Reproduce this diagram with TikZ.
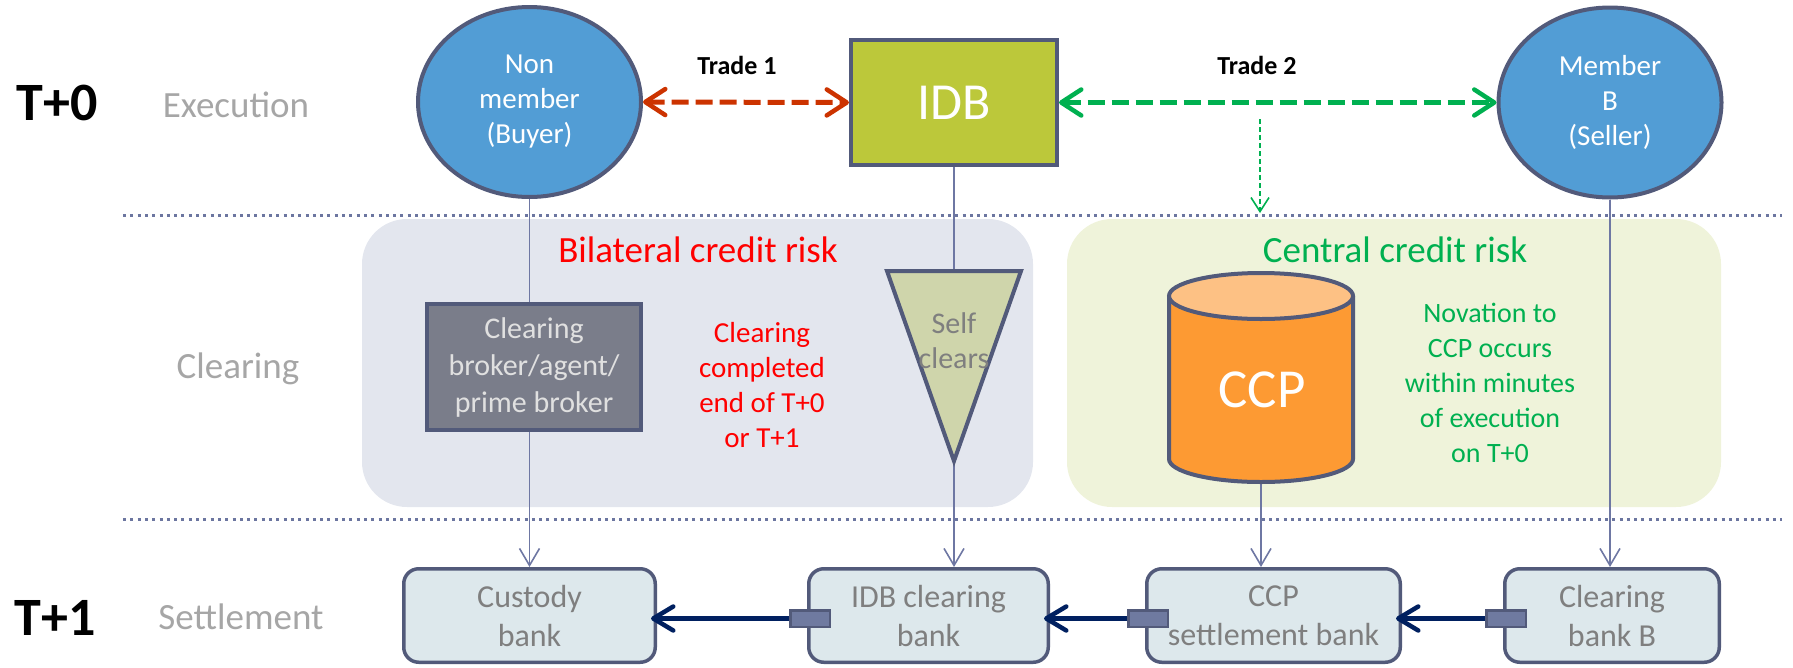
\documentclass[tikz,border=0pt]{standalone}
\usepackage{fontspec}
\setmainfont{Carlito}
\usetikzlibrary{shapes.geometric,arrows.meta,calc}
\pgfdeclarelayer{back}
\pgfdeclarelayer{mid}
\pgfsetlayers{back,mid,main}

\definecolor{slate}{HTML}{525A7A}
\definecolor{conn}{HTML}{6E77A3}
\definecolor{ellblue}{HTML}{529DD5}
\definecolor{idbgreen}{HTML}{BCC83A}
\definecolor{brokergray}{HTML}{7A7D8A}
\definecolor{bilat}{HTML}{E3E6EE}
\definecolor{centralbg}{HTML}{EFF3DA}
\definecolor{trifill}{HTML}{CFD5AB}
\definecolor{ccpbody}{HTML}{FD9A33}
\definecolor{ccptop}{HTML}{FDC184}
\definecolor{settle}{HTML}{DDE8EC}
\definecolor{textgray}{HTML}{7F7F7F}
\definecolor{labelgray}{HTML}{A6A6A6}
\definecolor{riskred}{HTML}{FF0000}
\definecolor{riskgreen}{HTML}{00B050}
\definecolor{tradered}{HTML}{CC3300}
\definecolor{navyc}{HTML}{002060}
\definecolor{sqfill}{HTML}{6F7AA0}
\definecolor{dotcol}{HTML}{6C76A0}

\begin{document}
\begin{tikzpicture}[x=1pt,y=-1pt,
  party/.style={ellipse, draw=slate, line width=4pt, fill=ellblue, minimum width=223pt, minimum height=190pt, inner sep=0pt, text=white, align=center, font=\fontsize{29}{35}\selectfont},
  idbbox/.style={rectangle, draw=slate, line width=4pt, fill=idbgreen, minimum width=206pt, minimum height=125pt, text=white, font=\fontsize{52}{60}\selectfont},
  brokerbox/.style={rectangle, draw=slate, line width=4pt, fill=brokergray, minimum width=214pt, minimum height=126pt, text=white!88!black, align=center, font=\fontsize{30}{37}\selectfont},
  bankbox/.style={rectangle, rounded corners=15pt, draw=slate, line width=3.5pt, fill=settle, minimum height=93.5pt, text=textgray, align=center, font=\fontsize{32}{39}\selectfont},
  sqbox/.style={rectangle, draw=slate, line width=2.5pt, fill=sqfill, minimum width=39.5pt, minimum height=16.5pt, inner sep=0pt},
  periodlbl/.style={font=\bfseries\fontsize{54}{60}\selectfont, text=black},
  phaselbl/.style={font=\fontsize{37}{44}\selectfont, text=labelgray},
  tradelbl/.style={font=\bfseries\fontsize{26}{30}\selectfont, text=black},
  risklbl/.style={font=\fontsize{37}{44}\selectfont},
  notelbl/.style={font=\fontsize{29}{35}\selectfont, align=center},
  dotline/.style={dotcol, line width=3pt, dash pattern=on 3pt off 4.3pt},
  region/.style={rounded corners=45pt},
  conline/.style={conn, line width=1.6pt, -{Straight Barb[length=17pt,width=20pt]}},
  tradearrow/.style={line width=5pt, dash pattern=on 17pt off 7pt, {Straight Barb[length=20pt,width=26pt,line width=4.5pt,round]}-{Straight Barb[length=20pt,width=26pt,line width=4.5pt,round]}},
  navyarrow/.style={navyc, line width=5pt, -{Straight Barb[length=20pt,width=24pt,line width=4.5pt,round]}, shorten >=-6pt},
  novarrow/.style={riskgreen, line width=1.6pt, dash pattern=on 5pt off 3pt, -{Straight Barb[length=14pt,width=18pt]}}
]
\useasboundingbox (0,0) rectangle (1793,667);

% ---- top row
\node[party] (nonmember) at (529.5,102) {Non\\member\\(Buyer)};
\node[idbbox] (idb) at (954,102.5) {IDB};
\node[party] (memberb) at (1610,102.5) {Member\\B\\(Seller)};
\node[tradelbl] (t1) at (737,65) {Trade 1};
\node[tradelbl] (t2) at (1257,65) {Trade 2};

% ---- left labels
\node[periodlbl] (tzero) at (57,103) {T+0};
\node[periodlbl] (tone) at (55,618) {T+1};
\node[phaselbl] (exec) at (236,105) {Execution};
\node[phaselbl] (clr) at (238,369) {Clearing};
\node[phaselbl] (stl) at (241,617) {Settlement};

% ---- clearing row
\node[brokerbox] (broker) at (534,367) {Clearing\\broker/agent/\\prime broker};
\node[risklbl, text=riskred] (bilat) at (698,250) {Bilateral credit risk};
\node[notelbl, text=riskred] (clrnote) at (762,385) {Clearing\\completed\\end of T+0\\or T+1};
\node[risklbl, text=riskgreen] (central) at (1395,250) {Central credit risk};
\node[notelbl, text=riskgreen, font=\fontsize{28}{35}\selectfont] (novnote) at (1490,383) {Novation to\\CCP occurs\\within minutes\\of execution\\on T+0};

% triangle (self clears)
\draw[draw=slate, line width=4pt, fill=trifill, line join=miter] (887,271) -- (1021,271) -- (954,461) -- cycle;
\node[notelbl, text=textgray, font=\fontsize{30}{35}\selectfont] (selfclr) at (954,341) {Self\\clears};

% cylinder (CCP)
\node[minimum width=184pt, minimum height=209pt, inner sep=0pt] (ccp) at (1261,377.5) {};
\fill[ccpbody] (1169,296) -- (1169,459) arc[start angle=180, end angle=360, x radius=92pt, y radius=23pt] -- (1353,296) -- cycle;
\draw[slate, line width=4pt] (1169,296) -- (1169,459) arc[start angle=180, end angle=360, x radius=92pt, y radius=23pt] -- (1353,296);
\draw[slate, line width=4pt, fill=ccptop] (1261,296) ellipse[x radius=92pt, y radius=23pt];
\node[text=white, font=\fontsize{55}{60}\selectfont] (ccptext) at (1262,390) {CCP};

% ---- settlement row
\node[bankbox, minimum width=251.5pt] (custody) at (529.5,615.5) {Custody\\bank};
\node[bankbox, minimum width=239.5pt] (idbclr) at (928.5,615.5) {IDB clearing\\bank};
\node[bankbox, minimum width=253.5pt] (ccpset) at (1273.5,615.5) {CCP\\settlement bank};
\node[bankbox, minimum width=214.5pt] (clrb) at (1612,615.5) {Clearing\\bank B};

\node[sqbox] (sq1) at ($(idbclr.west)+(3,3)$) {};
\node[sqbox] (sq2) at ($(ccpset.west)+(3,3)$) {};
\node[sqbox] (sq3) at ($(clrb.west)+(3,3)$) {};

\draw[navyarrow] (sq1.west) -- (sq1.west -| custody.east);
\draw[navyarrow] (sq2.west) -- (sq2.west -| idbclr.east);
\draw[navyarrow] (sq3.west) -- (sq3.west -| ccpset.east);

% ---- trade arrows
\draw[tradearrow, tradered] (nonmember.east) -- (idb.west);
\draw[tradearrow, riskgreen] (idb.east) -- (memberb.west);
\coordinate (novstart) at (1260,119);
\coordinate (novend) at (1260,213);
\draw[novarrow] (novstart) -- (novend);

% ---- connectors (behind)
\begin{pgfonlayer}{mid}
\draw[conline] (nonmember.south) -- (custody.north);
\draw[conline] (idb.south) -- (idb.south |- idbclr.north);
\draw[conline] (ccp.south) -- (ccp.south |- ccpset.north);
\draw[conline] (memberb.south) -- (memberb.south |- clrb.north);
\end{pgfonlayer}

% ---- regions and separators
\begin{pgfonlayer}{back}
\fill[bilat, region] (362,219) rectangle (1033,507);
\fill[centralbg, region] (1067,219) rectangle (1721,507);
\draw[dotline] (123,215) -- (1782,215);
\draw[dotline] (123,519) -- (1782,519);
\end{pgfonlayer}
\end{tikzpicture}
\end{document}
